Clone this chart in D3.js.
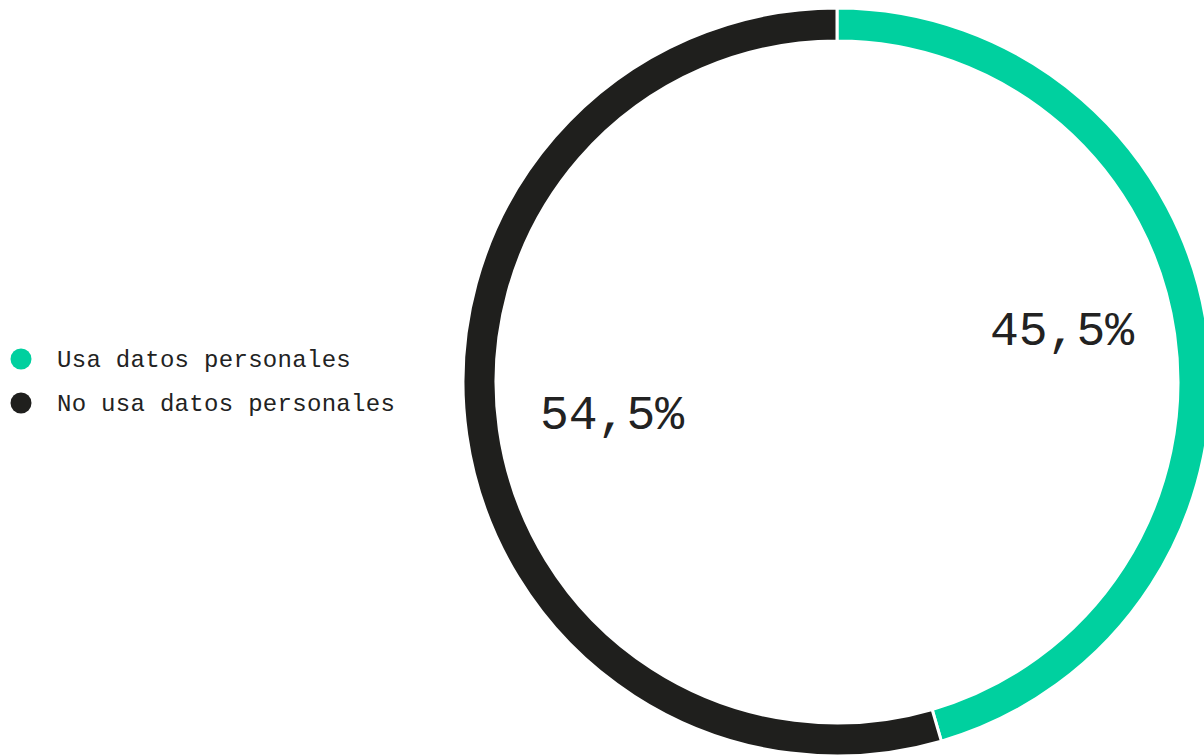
<!DOCTYPE html>
<html>
<head>
<meta charset="utf-8">
<script src="https://cdn.jsdelivr.net/npm/d3@7"></script>
<style>
  html, body { margin: 0; padding: 0; background: #ffffff; }
  svg { display: block; }
</style>
</head>
<body>
<svg id="chart" width="1204" height="756"></svg>
<script>
// Share of respondents by use of personal data
const categories = ["Usa datos personales", "No usa datos personales"];
const values = [45.5, 54.5];
const valueLabels = ["45,5%", "54,5%"];
const colors = ["#00d09f", "#1f1f1d"];

const width = 1204, height = 756;
const cx = 837, cy = 382;
const outerR = 374, innerR = 341;
const fontFamily = "'Liberation Mono', 'DejaVu Sans Mono', monospace";

const svg = d3.select("#chart");

const data = categories.map((c, i) => ({ name: c, value: values[i], label: valueLabels[i], color: colors[i] }));

const pie = d3.pie().value(d => d.value).sort(null);
const arc = d3.arc().innerRadius(innerR).outerRadius(outerR);
const arcs = pie(data);

const g = svg.append("g").attr("transform", `translate(${cx},${cy})`);

g.selectAll("path.slice")
  .data(arcs)
  .join("path")
  .attr("class", "slice")
  .attr("d", arc)
  .attr("fill", d => d.data.color)
  .attr("stroke", "#ffffff")
  .attr("stroke-width", 3)
  .attr("stroke-linejoin", "miter");

// Value labels inside the ring, anchored toward the centre
const labelR = 300;
g.selectAll("text.value")
  .data(arcs)
  .join("text")
  .attr("class", "value")
  .each(function(d) {
    const a = (d.startAngle + d.endAngle) / 2;
    const x = labelR * Math.sin(a);
    const y = -labelR * Math.cos(a);
    d3.select(this)
      .attr("x", x)
      .attr("y", y - 8)
      .attr("text-anchor", x > 0 ? "end" : "start");
  })
  .attr("dominant-baseline", "central")
  .attr("font-family", fontFamily)
  .attr("font-size", 48)
  .attr("fill", "#222222")
  .text(d => d.data.label);

// Legend
const legend = svg.append("g").attr("transform", "translate(21,359)");
const item = legend.selectAll("g.item")
  .data(data)
  .join("g")
  .attr("class", "item")
  .attr("transform", (d, i) => `translate(0,${i * 44})`);

item.append("circle")
  .attr("r", 10.5)
  .attr("fill", d => d.color);

item.append("text")
  .attr("x", 36)
  .attr("y", 8)
  .attr("font-family", fontFamily)
  .attr("font-size", 24)
  .attr("letter-spacing", 0.3)
  .attr("fill", "#222222")
  .text(d => d.name);
</script>
</body>
</html>
